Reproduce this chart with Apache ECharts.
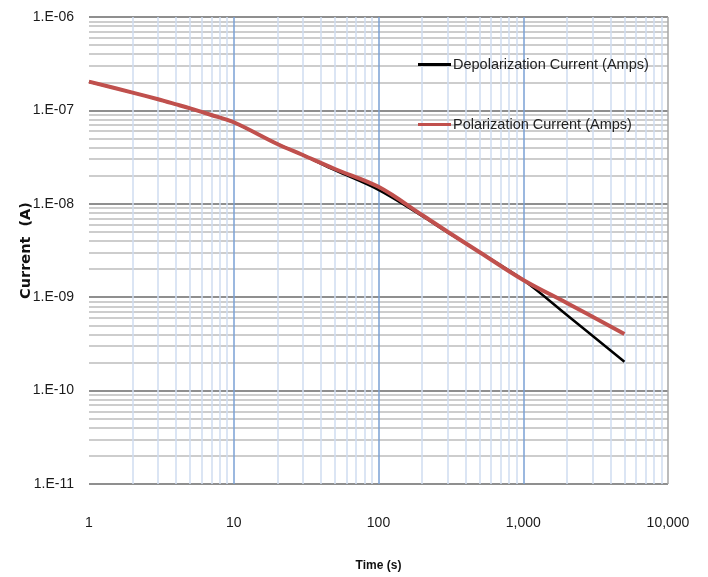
<!DOCTYPE html>
<html lang="en">
<head>
  <meta charset="UTF-8" />
  <title>Polarization / Depolarization Current</title>
  <script src="https://cdn.jsdelivr.net/npm/echarts@6.0.0/dist/echarts.min.js"></script>
  <style>
    body { margin: 0; background: #fff; overflow: hidden; }
    #main { width: 708px; height: 577px; }
  </style>
</head>
<body>
  <div id="main"></div>
  <script>
    // time in seconds, current in amps
    const times = [1, 2, 3, 4, 5, 7, 10, 20, 30, 50, 100, 200, 300, 500, 1000, 2000, 5000];
    const depolarization = [2.03e-7, 1.55e-7, 1.315e-7, 1.16e-7, 1.05e-7, 8.93e-8, 7.46e-8, 4.37e-8, 3.33e-8, 2.29e-8, 1.41e-8, 7.41e-9, 4.95e-9, 3.03e-9, 1.53e-9, 6.46e-10, 2.04e-10];
    const polarization = [2.03e-7, 1.55e-7, 1.315e-7, 1.16e-7, 1.05e-7, 8.93e-8, 7.46e-8, 4.37e-8, 3.33e-8, 2.36e-8, 1.52e-8, 7.59e-9, 5.02e-9, 3.03e-9, 1.53e-9, 8.67e-10, 4.04e-10];

    const xMin = 1, xMax = 10000;
    const yMin = 1e-11, yMax = 1e-6;
    const xDecades = [1, 10, 100, 1000];   // minor lines 2..9 inside each
    const xMajor = [10, 100, 1000];
    const yDecades = [1e-11, 1e-10, 1e-9, 1e-8, 1e-7];

    const seriesNames = ['Depolarization Current (Amps)', 'Polarization Current (Amps)'];

    const minorX = [];
    xDecades.forEach(d => { for (let k = 2; k <= 9; k++) minorX.push(d * k); });
    const minorY = [];
    yDecades.forEach(d => { for (let k = 2; k <= 9; k++) minorY.push(d * k); });

    const chart = echarts.init(document.getElementById('main'));
    const font = '"Liberation Sans Narrow", "Liberation Sans", Arial, sans-serif';

    const hLine = (v, color, width) => [
      { coord: [xMin, v], lineStyle: { color, width, type: 'solid' } },
      { coord: [xMax, v] }
    ];
    const vLine = (v, color, width) => [
      { coord: [v, yMin], lineStyle: { color, width, type: 'solid' } },
      { coord: [v, yMax] }
    ];

    const gridLines = [].concat(
      minorY.map(v => hLine(v, '#bdbdbd', 1.5)),
      minorX.map(v => vLine(v, '#cfdcf0', 1.5)),
      xMajor.map(v => vLine(v, '#7aa0d4', 1.5)),
      [vLine(xMax, '#a6a6a6', 1.5)]
    );

    const option = {
      backgroundColor: '#fff',
      animation: false,
      grid: { left: 89, right: 40, top: 17, bottom: 93 },
      legend: {
        data: seriesNames,
        orient: 'vertical',
        left: 413,
        top: 52,
        itemGap: 45,
        itemWidth: 33,
        itemHeight: 3,
        icon: 'rect',
        z: 10,
        itemStyle: { borderWidth: 0 },
        textStyle: { fontFamily: font, fontSize: 14.5, color: '#222', padding: [0, 0, 0, -3] }
      },
      xAxis: {
        type: 'log',
        logBase: 10,
        min: xMin,
        max: xMax,
        name: 'Time (s)',
        nameLocation: 'middle',
        nameGap: 76,
        nameMoveOverlap: false,
        nameTextStyle: { fontFamily: font, fontSize: 12, fontWeight: 'bold', color: '#111' },
        axisLine: { show: false },
        axisTick: { show: false },
        splitLine: { show: false },
        axisLabel: {
          margin: 32,
          fontFamily: font,
          fontSize: 14,
          color: '#1a1a1a',
          formatter: v => Math.round(v).toLocaleString('en-US')
        }
      },
      yAxis: {
        type: 'log',
        logBase: 10,
        min: yMin,
        max: yMax,
        splitNumber: 5,
        name: 'Current  (A)',
        nameLocation: 'middle',
        nameGap: 55,
        nameMoveOverlap: false,
        nameTextStyle: { fontFamily: '"DejaVu Sans", sans-serif', fontSize: 14.5, fontWeight: 'bold', color: '#111' },
        axisLine: { show: false },
        axisTick: { show: false },
        splitLine: { show: true, lineStyle: { color: '#8f8f8f', width: 2 } },
        axisLabel: {
          margin: 15,
          fontFamily: font,
          fontSize: 14,
          color: '#1a1a1a',
          formatter: v => '1.E-' + String(Math.round(-Math.log10(v))).padStart(2, '0')
        }
      },
      series: [
        {
          name: 'grid',
          type: 'line',
          data: [],
          z: 1,
          silent: true,
          markLine: {
            z: 1,
            silent: true,
            symbol: ['none', 'none'],
            label: { show: false },
            animation: false,
            data: gridLines
          }
        },
        {
          name: seriesNames[0],
          type: 'line',
          z: 3,
          smooth: 0.35,
          showSymbol: false,
          data: times.map((t, i) => [t, depolarization[i]]),
          lineStyle: { color: '#000', width: 2.5 },
          itemStyle: { color: '#000' }
        },
        {
          name: seriesNames[1],
          type: 'line',
          z: 4,
          smooth: 0.35,
          showSymbol: false,
          data: times.map((t, i) => [t, polarization[i]]),
          lineStyle: { color: '#c0504d', width: 4 },
          itemStyle: { color: '#c0504d' }
        }
      ]
    };

    chart.setOption(option);
  </script>
</body>
</html>
